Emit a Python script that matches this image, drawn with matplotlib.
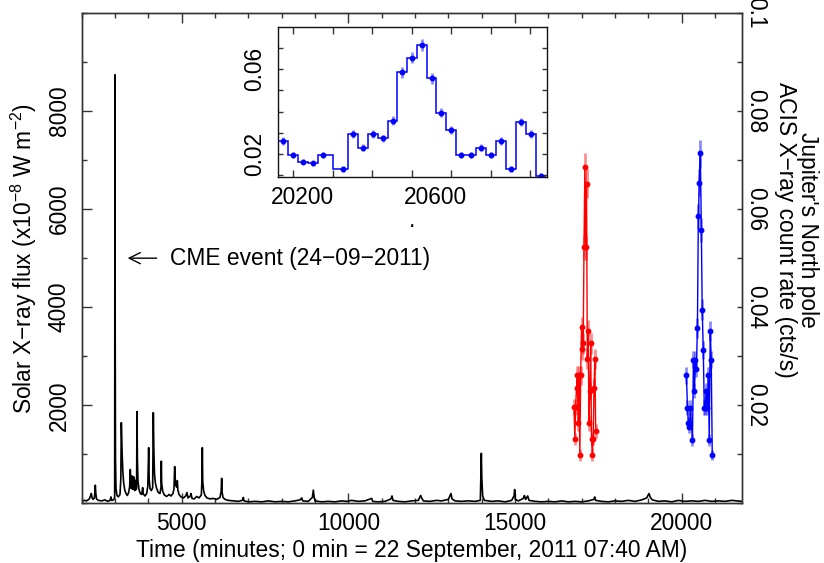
import numpy as np
import matplotlib
matplotlib.use("Agg")
import matplotlib.pyplot as plt
from matplotlib.ticker import MultipleLocator, FixedLocator, NullFormatter, FuncFormatter

plt.rcParams['font.family'] = ['Liberation Sans', 'DejaVu Sans']
plt.rcParams['font.size'] = 16.4
plt.rcParams['mathtext.fontset'] = 'custom'
plt.rcParams['mathtext.rm'] = 'Liberation Sans'

# GOES solar X-ray flux (x1e-8 W m-2), time in minutes
solar_t = [2000, 2080, 2150, 2230, 2260, 2290, 2310, 2340, 2380, 2400, 2410, 2425, 2445, 2500,
           2600, 2700, 2780, 2850, 2880, 2900, 2960, 2990, 3000, 3006, 3015, 3030, 3060, 3100,
           3150, 3175, 3190, 3200, 3215, 3235, 3260, 3290, 3330, 3370, 3410, 3440, 3460, 3470,
           3490, 3510, 3525, 3545, 3560, 3575, 3600, 3615, 3630, 3648, 3660, 3672, 3690, 3720,
           3760, 3800, 3830, 3850, 3900, 3950, 3985, 4010, 4025, 4050, 4090, 4130, 4150, 4165,
           4185, 4210, 4250, 4300, 4350, 4380, 4390, 4400, 4430, 4480, 4550, 4620, 4680, 4740,
           4770, 4790, 4805, 4830, 4855, 4870, 4885, 4920, 4980, 5050, 5120, 5160, 5190, 5260,
           5280, 5310, 5380, 5450, 5520, 5590, 5610, 5620, 5632, 5660, 5700, 5760, 5850, 5950,
           6050, 6150, 6185, 6200, 6215, 6240, 6300, 6400, 6550, 6700, 6820, 6850, 6870, 7000,
           7200, 7400, 7600, 7800, 8000, 8200, 8400, 8550, 8600, 8630, 8800, 8920, 8950, 8975,
           9000, 9200, 9400, 9600, 9800, 9950, 10100, 10300, 10500, 10700, 10730, 10900, 11100,
           11280, 11310, 11340, 11500, 11700, 11900, 12100, 12170, 12200, 12250, 12450, 12650,
           12800, 13000, 13080, 13110, 13200, 13400, 13600, 13800, 13960, 13990, 14005, 14030,
           14080, 14300, 14500, 14700, 14900, 14970, 14990, 15010, 15100, 15250, 15280, 15320,
           15380, 15420, 15600, 15800, 16000, 16200, 16400, 16600, 16800, 17000, 17200, 17370,
           17390, 17420, 17600, 17800, 18000, 18200, 18400, 18600, 18800, 18950, 19020, 19060,
           19120, 19300, 19500, 19700, 19900, 20100, 20300, 20500, 20700, 20900, 21100, 21300,
           21500, 21800]
solar_flux = [40, 60, 50, 90, 140, 200, 120, 80, 110, 250, 370, 200, 90, 60,
              50, 70, 40, 60, 130, 60, 70, 120, 8740, 3500, 900, 300, 160, 130,
              180, 500, 1645, 1400, 1000, 650, 420, 280, 200, 160, 220, 350, 690, 420,
              300, 560, 330, 280, 540, 320, 260, 470, 280, 300, 1870, 900, 450, 280,
              200, 180, 320, 190, 150, 200, 350, 1135, 500, 300, 260, 320, 1850, 1100,
              600, 420, 300, 220, 200, 330, 860, 420, 250, 170, 140, 180, 150, 200,
              300, 750, 520, 350, 330, 460, 280, 180, 130, 110, 150, 220, 110, 150,
              200, 100, 90, 140, 110, 170, 500, 1135, 450, 250, 160, 110, 90, 100,
              80, 120, 250, 510, 220, 120, 80, 60, 50, 40, 60, 120, 50, 30,
              40, 30, 50, 30, 40, 30, 50, 70, 110, 50, 40, 120, 270, 120,
              50, 30, 40, 30, 50, 40, 60, 40, 50, 100, 40, 30, 40,
              90, 150, 60, 40, 30, 50, 60, 160, 110, 50, 40, 60,
              50, 80, 200, 90, 50, 40, 50, 40, 60, 1020, 500, 150,
              60, 40, 50, 30, 60, 150, 280, 80, 50, 100, 160, 80,
              150, 60, 40, 30, 40, 30, 50, 30, 40, 30, 50, 80,
              130, 60, 40, 30, 50, 40, 60, 40, 70, 110, 200, 120,
              70, 40, 50, 30, 60, 40, 50, 40, 60, 40, 50, 40,
              60, 40]

# Jupiter north pole count rate, first observation (red)
red_t = [16770, 16795, 16820, 16845, 16870, 16895, 16920, 16945, 16970, 16995, 17020, 17045,
         17070, 17095, 17120, 17145, 17170, 17195, 17220, 17245, 17270, 17295, 17320, 17345,
         17370, 17395, 17420]
red_rate = [0.0197, 0.0131, 0.0197, 0.0236, 0.0261, 0.0163, 0.0261, 0.0098, 0.0261, 0.0359,
            0.0314, 0.0326, 0.0522, 0.0685, 0.0522, 0.0652, 0.0294, 0.0352, 0.0163, 0.0229,
            0.0326, 0.0131, 0.0098, 0.0131, 0.0236, 0.0294, 0.0148]
red_err = [0.0016, 0.0013, 0.0016, 0.0018, 0.0019, 0.0015, 0.0019, 0.0012, 0.0019, 0.0022,
           0.0021, 0.0021, 0.0026, 0.0030, 0.0026, 0.0029, 0.0020, 0.0022, 0.0015, 0.0018,
           0.0021, 0.0013, 0.0012, 0.0013, 0.0018, 0.0020, 0.0014]

# second observation (blue), also shown in the inset
blue_t = [20143, 20173, 20203, 20233, 20263, 20323, 20353, 20383, 20414, 20442, 20472, 20500,
          20530, 20560, 20590, 20616, 20648, 20678, 20708, 20738, 20768, 20799, 20827, 20857,
          20887, 20917]
blue_rate = [0.0261, 0.0195, 0.0164, 0.0156, 0.0195, 0.0129, 0.0293, 0.0230, 0.0293, 0.0274,
             0.0357, 0.0585, 0.0654, 0.0714, 0.0557, 0.0395, 0.0313, 0.0195, 0.0195, 0.0230,
             0.0195, 0.0261, 0.0129, 0.0352, 0.0293, 0.0098]
blue_err = [0.0017, 0.0015, 0.0013, 0.0013, 0.0015, 0.0012, 0.0018, 0.0016, 0.0018, 0.0017,
            0.0020, 0.0025, 0.0027, 0.0028, 0.0025, 0.0021, 0.0018, 0.0015, 0.0015, 0.0016,
            0.0015, 0.0017, 0.0012, 0.0020, 0.0018, 0.0010]

inset_minor = [20171, 20292, 20410, 20529, 20647, 20766, 20885]

fig = plt.figure(figsize=(8.24, 5.63), dpi=100)
ax = fig.add_axes([0.0991, 0.1060, 0.8010, 0.8709])
ax2 = ax.twinx()

ax.plot(solar_t, solar_flux, color='black', lw=1.2)
ax.set_xlim(2000, 21800)
ax.set_ylim(0, 10000)
ax.xaxis.set_major_locator(MultipleLocator(5000))
ax.xaxis.set_minor_locator(MultipleLocator(1000))
ax.yaxis.set_major_locator(FixedLocator([2000, 4000, 6000, 8000]))
ax.yaxis.set_minor_locator(MultipleLocator(1000))
ax.tick_params(which='both', direction='in', top=True, bottom=True, left=True, right=False,
               color='#333333')
ax.tick_params(which='major', length=7.2, width=1, pad=6)
ax.tick_params(which='minor', length=3.6, width=1)
ax.tick_params(axis='y', which='major', pad=8)
for lab in ax.get_yticklabels():
    lab.set_rotation(90)
    lab.set_va('center')

ax.set_xlabel('Time (minutes; 0 min = 22 September, 2011 07:40 AM)', labelpad=3)
ax.set_ylabel('Solar X−ray flux (x10$^{−8}$ W m$^{−2}$)', labelpad=6)

ax.annotate('', xy=(3380, 5000), xytext=(4250, 5000),
            arrowprops=dict(arrowstyle='->', lw=1, color='black', shrinkA=0, shrinkB=0,
                            mutation_scale=20))
ax.text(4640, 5000, 'CME event (24−09−2011)', va='center', ha='left')

ax2.errorbar(red_t, red_rate, yerr=red_err, fmt='none', ecolor=(1, 0, 0, 0.45), elinewidth=2)
ax2.plot(red_t, red_rate, '-o', color='red', lw=1, ms=3.2)
ax2.errorbar(blue_t, blue_rate, yerr=blue_err, fmt='none', ecolor=(0, 0, 1, 0.45), elinewidth=2)
ax2.plot(blue_t, blue_rate, '-o', color='blue', lw=1, ms=3.2)
ax2.set_ylim(0, 0.1)
ax2.yaxis.set_major_locator(FixedLocator([0.02, 0.04, 0.06, 0.08, 0.1]))
ax2.yaxis.set_minor_locator(MultipleLocator(0.01))
ax2.yaxis.set_major_formatter(FuncFormatter(lambda v, p: f'{v:g}'))
ax2.tick_params(which='both', direction='in', length=3.6, width=1, color='#333333', pad=2)
for lab in ax2.get_yticklabels():
    lab.set_rotation(270)
    lab.set_va('center')

# right-hand axis title, two lines placed by hand
fig.text(808 / 824, 1 - 230 / 563, "Jupiter's North pole", rotation=270,
         ha='center', va='center')
fig.text(785 / 824, 1 - 230 / 563, "ACIS X−ray count rate (cts/s)", rotation=270,
         ha='center', va='center')

for a in (ax, ax2):
    for s in a.spines.values():
        s.set_color('#333333')
        s.set_linewidth(1)

# inset: zoom on the second observation
axin = fig.add_axes([0.3370, 0.6862, 0.3265, 0.2654])
mids = [(a + b) / 2 for a, b in zip(blue_t[:-1], blue_t[1:])]
edges = [blue_t[0] - (mids[0] - blue_t[0])] + mids + [blue_t[-1] + (blue_t[-1] - mids[-1])]
axin.stairs(blue_rate, edges, color='blue', lw=1.1, baseline=None)
axin.errorbar(blue_t, blue_rate, yerr=blue_err, fmt='none', ecolor=(0, 0, 1, 0.45), elinewidth=2)
axin.plot(blue_t, blue_rate, 'o', color='blue', ms=3.2)
axin.set_xlim(20126, 20935)
axin.set_ylim(0.0093, 0.0798)
axin.set_xticks([20200, 20600])
axin.xaxis.set_minor_locator(FixedLocator(inset_minor))
axin.yaxis.set_major_locator(FixedLocator([0.02, 0.06]))
axin.yaxis.set_minor_locator(MultipleLocator(0.01))
axin.yaxis.set_major_formatter(FuncFormatter(lambda v, p: f'{v:g}'))
axin.tick_params(axis='x', which='major', length=0, pad=7)
axin.tick_params(axis='x', which='minor', direction='in', top=True, bottom=True, length=5,
                 width=1, color='#333333')
axin.tick_params(axis='y', which='both', direction='in', left=True, right=True, length=3.6,
                 width=1, color='#333333', pad=8)
for lab in axin.get_yticklabels():
    lab.set_rotation(90)
    lab.set_va('center')
axin.set_xlabel('.', labelpad=0)
for s in axin.spines.values():
    s.set_color('#111111')
    s.set_linewidth(1)

fig.savefig('out.png', dpi=100)
